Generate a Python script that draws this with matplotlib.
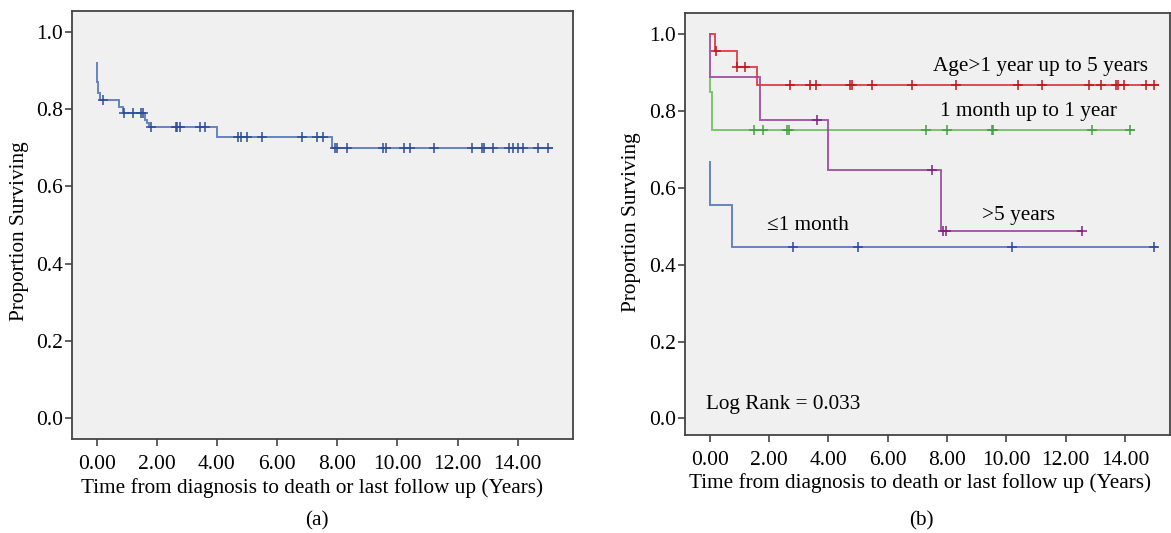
import numpy as np
import matplotlib
matplotlib.use("Agg")
import matplotlib.pyplot as plt

plt.rcParams['font.family'] = ['Liberation Serif', 'DejaVu Serif']

# ---------------- data ----------------
# Panel (a): overall survival
A_times = [0, 0.02, 0.055, 0.11, 0.75, 0.88, 1.61, 1.68, 1.75, 4.01, 7.81]
A_surv = [0.92, 0.871, 0.841, 0.824, 0.806, 0.791, 0.772, 0.764, 0.753, 0.729, 0.699]
A_end = 15.13
A_cens = [0.22, 0.91, 1.22, 1.46, 1.53, 1.80, 2.64, 2.68, 2.77, 3.44, 3.61,
          4.71, 4.79, 4.99, 5.51, 6.82, 7.32, 7.52, 7.92, 8.00, 8.33, 9.53,
          9.61, 10.23, 10.42, 11.22, 12.49, 12.80, 12.88, 13.19, 13.72, 13.85,
          14.02, 14.17, 14.69, 15.02]

# Panel (b): by age group
RED_times = [0, 0.17, 0.90, 1.60]
RED_surv = [1.0, 0.958, 0.915, 0.867]
RED_end = 15.11
RED_cens = [0.19, 0.92, 1.20, 2.70, 3.37, 3.57, 4.72, 4.78, 5.48, 6.81, 8.30,
            10.38, 11.19, 12.80, 13.19, 13.70, 13.77, 13.97, 14.71, 14.98]

GREEN_times = [0, 0.02, 0.08]
GREEN_surv = [0.889, 0.851, 0.751]
GREEN_end = 14.32
GREEN_cens = [1.48, 1.78, 2.61, 2.68, 7.29, 7.99, 9.50, 9.56, 12.90, 14.17]

PURPLE_times = [0, 0, 1.69, 3.99, 7.79]
PURPLE_surv = [1.0, 0.889, 0.778, 0.648, 0.488]
PURPLE_end = 12.54
PURPLE_cens = [3.60, 7.50, 7.87, 7.96, 12.54]

BLUE_times = [0, 0, 0.73]
BLUE_surv = [0.667, 0.556, 0.446]
BLUE_end = 15.09
BLUE_cens = [2.79, 4.98, 10.18, 14.98]

x_ticks = [0, 2, 4, 6, 8, 10, 12, 14]
x_ticklabels = ["0.00", "2.00", "4.00", "6.00", "8.00", "10.00", "12.00", "14.00"]
y_ticks = [0.0, 0.2, 0.4, 0.6, 0.8, 1.0]
y_ticklabels = ["0.0", "0.2", "0.4", "0.6", "0.8", "1.0"]

group_labels = ["Age>1 year up to 5 years", "1 month up to 1 year", ">5 years", "\u22641 month"]
log_rank_text = "Log Rank = 0.033"
xlabel = "Time from diagnosis to death or last follow up (Years)"
ylabel = "Proportion Surviving"

# ---------------- drawing ----------------
W, H = 1171, 533
fig = plt.figure(figsize=(W / 100, H / 100), dpi=100)
fig.patch.set_facecolor("white")

FS_TICK = 15.5
FS_TEXT = 15.3


def px_axes(l, t, r, b):
    return fig.add_axes([l / W, (H - b) / H, (r - l) / W, (b - t) / H])


def km(ax, times, surv, end, cens, color, mcolor, lw=1.4):
    xs = list(times) + [end]
    ys = list(surv) + [surv[-1]]
    ax.plot(xs, ys, drawstyle="steps-post", color=color, lw=lw, alpha=0.9,
            solid_joinstyle="miter")
    t = np.asarray(times)
    s = np.asarray(surv)
    idx = np.searchsorted(t, cens, side="right") - 1
    ax.plot(cens, s[idx], linestyle="none", marker="+", markersize=7,
            mew=1.1, color=mcolor)


def style(ax, xlim, ylim, xl_pos, yl_pos):
    ax.set_facecolor("#F0F0F0")
    ax.set_xlim(*xlim)
    ax.set_ylim(*ylim)
    ax.set_xticks(x_ticks)
    ax.set_xticklabels(x_ticklabels)
    ax.set_yticks(y_ticks)
    ax.set_yticklabels(y_ticklabels)
    ax.tick_params(direction="out", length=5, width=1.2, color="#444444",
                   labelsize=FS_TICK)
    ax.tick_params(axis="x", pad=6.5)
    ax.tick_params(axis="y", pad=1.5)
    for sp in ax.spines.values():
        sp.set_color("#444444")
        sp.set_linewidth(1.3)
    ax.set_xlabel(xlabel, fontsize=FS_TEXT)
    ax.set_ylabel(ylabel, fontsize=FS_TEXT)
    ax.xaxis.label.set_va("center")
    ax.yaxis.label.set_va("center")
    ax.xaxis.set_label_coords(*xl_pos)
    ax.yaxis.set_label_coords(*yl_pos)


# Panel (a)
ax1 = px_axes(72, 10.7, 573, 439)
style(ax1, (-0.82, 15.84), (-0.0544, 1.0552), (0.479, -0.115), (-0.1038, 0.4856))
km(ax1, A_times, A_surv, A_end, A_cens, "#5878BC", "#2C4C98")

# Panel (b)
ax2 = px_axes(685, 13.3, 1170, 435)
style(ax2, (-0.84, 15.52), (-0.0435, 1.055), (0.4845, -0.1145), (-0.1093, 0.505))
km(ax2, GREEN_times, GREEN_surv, GREEN_end, GREEN_cens, "#6CC15E", "#3FA33A")
km(ax2, PURPLE_times, PURPLE_surv, PURPLE_end, PURPLE_cens, "#9D49A0", "#80207F")
km(ax2, RED_times, RED_surv, RED_end, RED_cens, "#E2383F", "#C0161E")
km(ax2, BLUE_times, BLUE_surv, BLUE_end, BLUE_cens, "#5878BC", "#2C4C98")

ax2.text(11.15, 0.916, group_labels[0], fontsize=FS_TEXT, ha="center", va="center")
ax2.text(10.74, 0.799, group_labels[1], fontsize=FS_TEXT, ha="center", va="center")
ax2.text(10.42, 0.527, group_labels[2], fontsize=FS_TEXT, ha="center", va="center")
ax2.text(3.32, 0.501, group_labels[3], fontsize=FS_TEXT, ha="center", va="center")
ax2.text(-0.13, 0.035, log_rank_text, fontsize=FS_TEXT, ha="left", va="center")

fig.text(317 / W, 1 - 521 / H, "(a)", fontsize=FS_TEXT, ha="center", va="center")
fig.text(921 / W, 1 - 521 / H, "(b)", fontsize=FS_TEXT, ha="center", va="center")

fig.savefig("out.png", dpi=100, facecolor="white")
